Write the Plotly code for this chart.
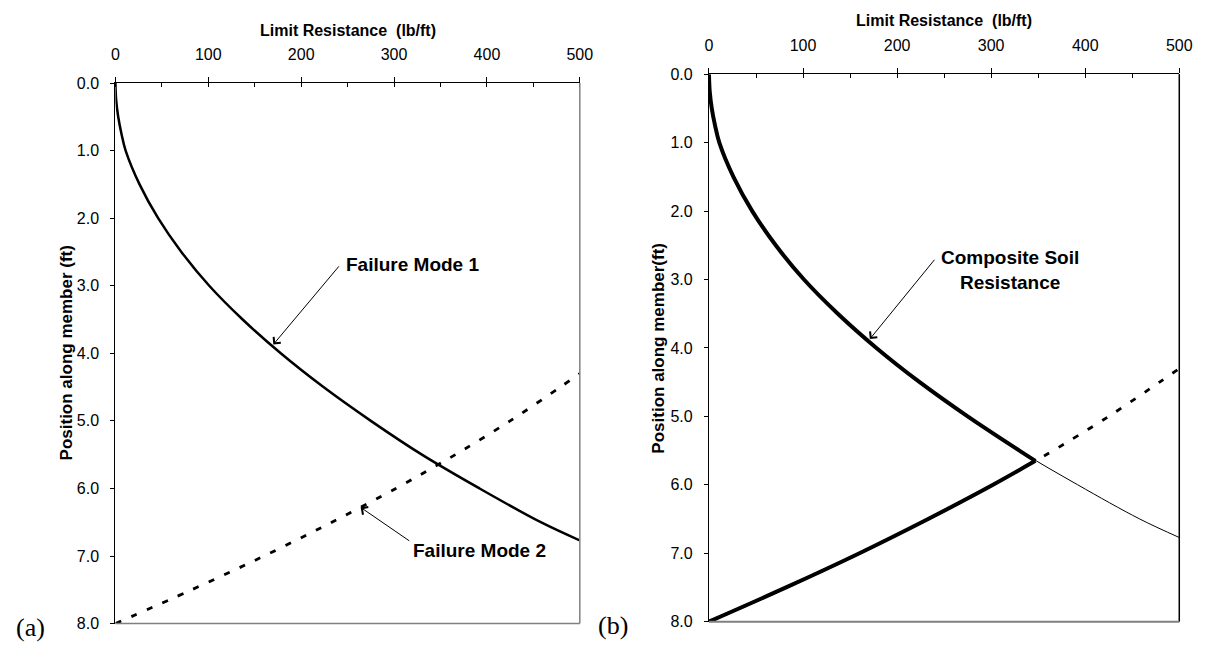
import plotly.graph_objects as go

W, H = 1212, 655

# Failure Mode 1 (depth y in ft, resistance x in lb/ft)
mode1_y = [0.0, 0.25, 0.5, 0.75, 1.0, 1.5, 2.0, 2.5, 3.0, 3.5, 4.0, 4.5, 5.0, 5.5, 6.0, 6.5, 6.77]
mode1_x = [0, 0.8, 3, 6.5, 11, 26, 46, 71, 101, 137, 178, 224, 275, 330, 392, 458, 500]

# Failure Mode 2
mode2_y = [8.0, 7.5, 7.0, 6.5, 6.0, 5.65, 5.5, 5.0, 4.5, 4.3]
mode2_x = [0, 82, 160, 233, 302, 347, 366, 425, 479, 500]

# intersection of the two modes (composite switches from mode 1 to mode 2)
cross_x, cross_y = 347, 5.65

x_ticks = [0, 100, 200, 300, 400, 500]
y_ticks = [0, 1, 2, 3, 4, 5, 6, 7, 8]

# composite = mode 1 above the intersection, mode 2 below it
upper = [(x, v) for x, v in zip(mode1_x, mode1_y) if v < cross_y]
lower = sorted([(x, v) for x, v in zip(mode2_x, mode2_y) if v > cross_y], key=lambda p: p[1])
compU_x = [p[0] for p in upper] + [cross_x]
compU_y = [p[1] for p in upper] + [cross_y]
compL_x = [cross_x] + [p[0] for p in lower]
compL_y = [cross_y] + [p[1] for p in lower]

FONT = "Liberation Sans, Arial, sans-serif"
SERIF = "Liberation Serif, Times New Roman, serif"
DASH = "6px,11px"

fig = go.Figure()

# panel (a)
fig.add_trace(go.Scatter(x=mode1_x, y=mode1_y, mode="lines", line=dict(color="black", width=2.5, shape="spline"),
                         xaxis="x", yaxis="y", showlegend=False, hoverinfo="skip"))
fig.add_trace(go.Scatter(x=mode2_x, y=mode2_y, mode="lines", line=dict(color="black", width=2.8, dash=DASH, shape="spline"),
                         xaxis="x", yaxis="y", showlegend=False, hoverinfo="skip"))

# panel (b)
fig.add_trace(go.Scatter(x=mode1_x, y=mode1_y, mode="lines", line=dict(color="black", width=1, shape="spline"),
                         xaxis="x2", yaxis="y2", showlegend=False, hoverinfo="skip"))
fig.add_trace(go.Scatter(x=mode2_x, y=mode2_y, mode="lines", line=dict(color="black", width=2.8, dash=DASH, shape="spline"),
                         xaxis="x2", yaxis="y2", showlegend=False, hoverinfo="skip"))
fig.add_trace(go.Scatter(x=compU_x, y=compU_y, mode="lines", line=dict(color="black", width=4, shape="spline"),
                         xaxis="x2", yaxis="y2", showlegend=False, hoverinfo="skip"))
fig.add_trace(go.Scatter(x=compL_x, y=compL_y, mode="lines", line=dict(color="black", width=4, shape="spline"),
                         xaxis="x2", yaxis="y2", showlegend=False, hoverinfo="skip"))


def px_x(p):
    return p / W


def px_y(p):
    return 1 - p / H


L = dict(x0=113, x1=584, y0=77, y1=632)
R = dict(x0=715, x1=1192, y0=68, y1=630)


def xaxis(dom, anchor):
    return dict(domain=[px_x(dom["x0"]), px_x(dom["x1"])], range=[0, 500], side="top", anchor=anchor,
                tickvals=x_ticks, ticks="outside", ticklen=5, tickcolor="black", tickwidth=1,
                minor=dict(dtick=50, ticks="inside", ticklen=4, tickcolor="black", tickwidth=1, showgrid=False),
                showline=True, linecolor="black", linewidth=1.2, showgrid=False, zeroline=False,
                tickfont=dict(family=FONT, size=16, color="black"), ticklabelstandoff=11, fixedrange=True)


def yaxis(dom, anchor):
    return dict(domain=[px_y(dom["y1"]), px_y(dom["y0"])], range=[8, 0], anchor=anchor,
                tickvals=y_ticks, tickformat=".1f", ticks="outside", ticklen=4, tickcolor="black", tickwidth=1,
                showline=True, linecolor="black", linewidth=1.2, showgrid=False, zeroline=False,
                tickfont=dict(family=FONT, size=16, color="black"), ticklabelstandoff=8, fixedrange=True)


fig.update_layout(
    width=W, height=H, margin=dict(l=0, r=0, t=0, b=0),
    paper_bgcolor="white", plot_bgcolor="white",
    xaxis=xaxis(L, "y"),
    yaxis=yaxis(L, "x"),
    xaxis2=xaxis(R, "y2"),
    yaxis2=yaxis(R, "x2"),
)

shapes = [
    dict(type="line", xref="x domain", yref="y domain", x0=1, x1=1, y0=0, y1=1, line=dict(color="#808080", width=1.5)),
    dict(type="line", xref="x domain", yref="y domain", x0=0, x1=1, y0=0, y1=0, line=dict(color="#808080", width=1.5)),
    dict(type="line", xref="x2 domain", yref="y2 domain", x0=1, x1=1, y0=0, y1=1, line=dict(color="black", width=1.5)),
    dict(type="line", xref="x2 domain", yref="y2 domain", x0=0, x1=1, y0=0, y1=0, line=dict(color="#808080", width=2)),
]
fig.update_layout(shapes=shapes)

title_font = dict(family=FONT, size=16, color="black")
lab_font = dict(family=FONT, size=19, color="black")
ann = []
# axis titles
ann.append(dict(text="<b>Limit Resistance  (lb/ft)</b>", x=px_x((L["x0"] + L["x1"]) / 2), y=px_y(23), xref="paper", yref="paper",
                showarrow=False, font=title_font, xanchor="center", yanchor="middle"))
ann.append(dict(text="<b>Limit Resistance  (lb/ft)</b>", x=px_x((R["x0"] + R["x1"]) / 2), y=px_y(13), xref="paper", yref="paper",
                showarrow=False, font=title_font, xanchor="center", yanchor="middle"))
ann.append(dict(text="<b>Position along member (ft)</b>", x=px_x(63), y=px_y((L["y0"] + L["y1"]) / 2), xref="paper", yref="paper",
                showarrow=False, textangle=-90, font=dict(family=FONT, size=17, color="black"), xanchor="center", yanchor="middle"))
ann.append(dict(text="<b>Position along member(ft)</b>", x=px_x(664), y=px_y((R["y0"] + R["y1"]) / 2), xref="paper", yref="paper",
                showarrow=False, textangle=-90, font=dict(family=FONT, size=17, color="black"), xanchor="center", yanchor="middle"))
# panel labels
ann.append(dict(text="(a)", x=px_x(10), y=px_y(636), xref="paper", yref="paper", showarrow=False,
                font=dict(family=SERIF, size=26, color="black"), xanchor="left", yanchor="middle"))
ann.append(dict(text="(b)", x=px_x(600), y=px_y(634), xref="paper", yref="paper", showarrow=False,
                font=dict(family=SERIF, size=26, color="black"), xanchor="left", yanchor="middle"))

arrow = dict(showarrow=True, arrowhead=4, arrowsize=1.8, arrowwidth=1, arrowcolor="black", standoff=0, text="")
# Failure Mode 1
ann.append(dict(arrow, x=170, y=3.87, ax=242, ay=2.69, xref="x", yref="y", axref="x", ayref="y"))
ann.append(dict(text="<b>Failure Mode 1</b>", x=246, y=2.68, xref="x", yref="y", showarrow=False,
                xanchor="left", yanchor="middle", font=lab_font))
# Failure Mode 2
ann.append(dict(arrow, x=264, y=6.28, ax=318, ay=6.79, xref="x", yref="y", axref="x", ayref="y"))
ann.append(dict(text="<b>Failure Mode 2</b>", x=318, y=6.92, xref="x", yref="y", showarrow=False,
                xanchor="left", yanchor="middle", font=lab_font))
# Composite Soil Resistance
ann.append(dict(arrow, x=171, y=3.87, ax=241, ay=2.69, xref="x2", yref="y2", axref="x2", ayref="y2"))
ann.append(dict(text="<b>Composite Soil<br>Resistance</b>", x=245, y=2.86, xref="x2", yref="y2", showarrow=False,
                xanchor="left", yanchor="middle", align="center", font=lab_font))
fig.update_layout(annotations=ann)

fig.write_html("out.html")
